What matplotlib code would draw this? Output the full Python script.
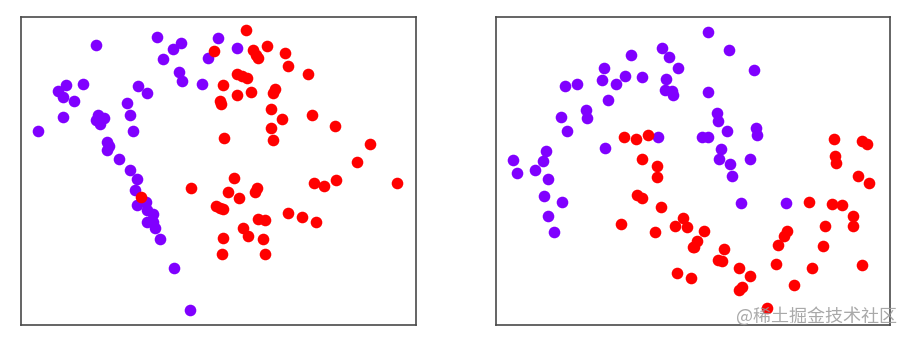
import matplotlib.pyplot as plt

# Left panel: two classes
left_purple_x = [157, 96, 181, 173, 163, 218, 208, 237, 179, 182, 202, 66, 58, 63, 83, 74,
                 138, 147, 127, 130, 63, 98, 104, 96, 100, 38, 133, 107, 109, 107, 119, 130,
                 137, 135, 137, 146, 147, 153, 147, 153, 155, 160, 174, 190]
left_purple_y = [37, 45, 43, 49, 59, 37.5, 58, 48, 72, 81, 84, 85, 91, 97, 84, 101,
                 86, 93, 103, 115, 117, 115, 118, 120, 124, 131, 131, 142, 146, 150, 159, 170,
                 179, 190, 205, 202, 210, 214, 222, 222, 228, 239, 268, 310]
left_red_x = [214, 246, 267, 253, 256, 258, 285, 288, 308, 237, 242, 247, 223, 237, 251,
              220, 221, 275, 273, 271, 282, 312, 271, 273, 335, 224, 370, 357, 191, 141,
              234, 228, 239, 255, 257, 216, 220, 223, 314, 324, 336, 397, 288, 302, 316,
              258, 265, 243, 248, 223, 263, 222, 265]
left_red_y = [50.5, 30, 46, 50, 55, 58, 53, 66, 74, 74, 76, 78, 85, 95, 92,
              101, 104, 89, 93, 109, 119, 115, 128, 140, 126, 138, 144, 162, 188, 197,
              178, 192, 198, 192, 188, 206, 207.5, 209, 183, 186, 180, 183, 213, 217, 222,
              219, 220, 228, 236, 238, 239, 254, 254]

# Right panel: two classes
right_purple_x = [631, 662, 669, 678, 604, 602, 616, 625, 642, 666, 665, 672, 673, 565, 577,
                  608, 586, 587, 561, 567, 658, 605, 546, 543, 513, 517, 535, 548, 544, 562,
                  548, 554, 708, 729, 754, 708, 717, 718, 727, 756, 757, 702, 708, 721, 719,
                  730, 750, 732, 741, 786]
right_purple_y = [55, 48, 57, 68, 68, 80, 84, 76, 77, 79, 90, 91, 95, 86, 84,
                  100, 110, 118, 117, 131, 137, 148, 151, 161, 160, 173, 170, 179, 196, 202,
                  216, 232, 32, 50, 70, 92, 113, 121, 131, 128, 135, 137, 137, 149, 159,
                  164, 159, 176, 203, 203]
right_red_x = [624, 636, 648, 642, 657, 657, 637, 642, 661, 621, 655, 675, 683, 687, 693,
               677, 691, 704, 697, 694, 724, 718, 722, 739, 750, 742, 739, 767, 776, 778,
               784, 787, 794, 809, 825, 823, 812, 832, 842, 853, 853, 862, 858, 869, 834,
               862, 867, 835, 836]
right_red_y = [137, 139, 135, 159, 166, 177, 195, 198, 207, 224, 232, 226, 218, 227, 247,
               273, 278, 231, 241, 247, 249, 260, 261, 268, 276, 287, 290, 308, 264, 245,
               236, 231, 285, 202, 226, 246, 268, 204, 205, 216, 226, 265, 176, 183, 139,
               141, 144, 156, 163]

PURPLE = '#8000ff'
RED = '#ff0000'
_DOT = 70

fig = plt.figure(figsize=(9.1, 3.39), dpi=100)
W, H = 910, 339

panels = [
    ((21, 415.5), left_purple_x, left_purple_y, left_red_x, left_red_y),
    ((496, 890), right_purple_x, right_purple_y, right_red_x, right_red_y),
]
for (x0, x1), px, py, rx, ry in panels:
    top, bottom = 16.5, 325
    ax = fig.add_axes([x0 / W, 1 - bottom / H, (x1 - x0) / W, (bottom - top) / H])
    ax.scatter(px, py, s=_DOT, color=PURPLE, linewidths=0)
    ax.scatter(rx, ry, s=_DOT, color=RED, linewidths=0)
    ax.set_xlim(x0, x1)
    ax.set_ylim(bottom, top)
    ax.set_xticks([])
    ax.set_yticks([])
    for sp in ax.spines.values():
        sp.set_color('#4a4a4a')
        sp.set_linewidth(1.2)

fig.text(897 / W, 1 - 316 / H, '@稀土掘金技术社区', ha='right', va='center',
         fontsize=13, color='#9a9a9a', alpha=0.85,
         family=['Noto Sans CJK SC', 'DejaVu Sans'])

fig.savefig('out.png', dpi=100)
